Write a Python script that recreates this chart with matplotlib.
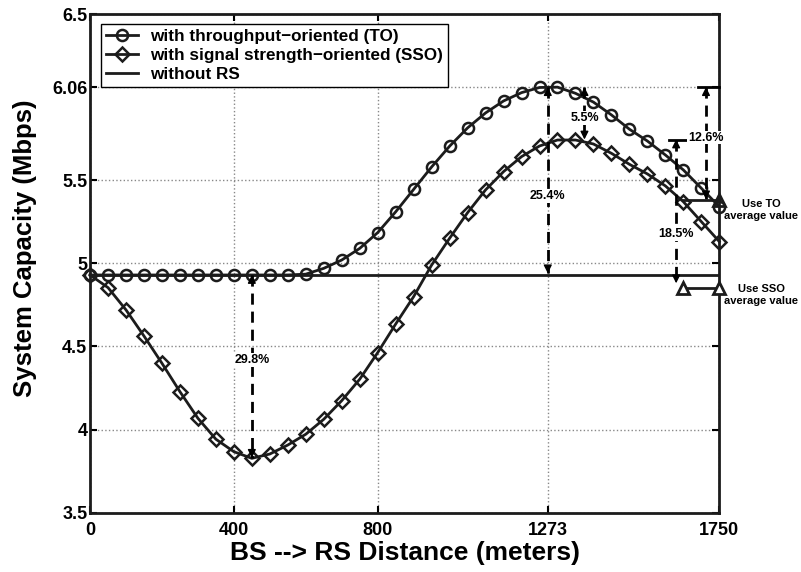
import numpy as np
import matplotlib
matplotlib.use("Agg")
import matplotlib.pyplot as plt

plt.rcParams['font.family'] = ['Liberation Sans', 'DejaVu Sans']
plt.rcParams['font.weight'] = 'bold'

# BS -> RS distance (m), one point every 50 m
distance = np.arange(0, 1751, 50)

capacity_to = [4.93, 4.93, 4.93, 4.93, 4.93, 4.93, 4.93, 4.93, 4.93, 4.93,
               4.93, 4.93, 4.935, 4.97, 5.02, 5.09, 5.185, 5.31, 5.445, 5.58,
               5.705, 5.815, 5.905, 5.977, 6.027, 6.058, 6.06, 6.023, 5.97, 5.893,
               5.807, 5.736, 5.652, 5.562, 5.452, 5.341]

capacity_sso = [4.93, 4.854, 4.72, 4.563, 4.399, 4.228, 4.068, 3.942, 3.867, 3.827,
                3.853, 3.907, 3.972, 4.062, 4.174, 4.303, 4.463, 4.635, 4.80, 4.99,
                5.151, 5.305, 5.442, 5.552, 5.642, 5.706, 5.742, 5.742, 5.718, 5.662,
                5.596, 5.538, 5.466, 5.371, 5.251, 5.131]

capacity_no_rs = 4.93

x_ticks = [0, 400, 800, 1273, 1750]
y_ticks = [3.5, 4, 4.5, 5, 5.5, 6.06, 6.5]
y_tick_labels = ["3.5", "4", "4.5", "5", "5.5", "6.06", "6.5"]

# (x, y_top, y_bottom, label, label_y)
gain_arrows = [
    (450, 4.93, 3.83, "29.8%", 4.42),
    (1273, 6.06, 4.94, "25.4%", 5.405),
    (1375, 6.06, 5.745, "5.5%", 5.875),
    (1630, 5.745, 4.88, "18.5%", 5.175),
    (1713, 6.06, 5.385, "12.6%", 5.756),
]
# caps at the top of the right arrows: (x0, x1, y)
caps = [(1690, 1750, 6.06), (1610, 1670, 5.745)]

to_avg = 5.38
sso_avg = 4.85
avg_x = [1650, 1750]

ink = '#1c1c1c'

fig = plt.figure(figsize=(8.01, 5.72), dpi=100)
ax = fig.add_axes([0.1124, 0.1037, 0.898 - 0.1124, 0.9755 - 0.1037])

ax.plot(distance, capacity_to, '-o', color=ink, lw=2, ms=8, mfc='none', mew=1.8,
        clip_on=False, zorder=4, label='with throughput\u2212oriented (TO)')
ax.plot(distance, capacity_sso, '-D', color=ink, lw=2, ms=7, mfc='none', mew=1.8,
        clip_on=False, zorder=4, label='with signal strength\u2212oriented (SSO)')
ax.axhline(capacity_no_rs, color=ink, lw=2, zorder=3, label='without RS')

# dashed gain arrows
for x, y0, y1, txt, ty in gain_arrows:
    ax.plot([x, x], [y0, y1], '--', color='black', lw=2, dashes=(4, 2.5), zorder=5)
    for tip, back in [(y0, y0 - 0.04), (y1, y1 + 0.04)]:
        ax.annotate('', xy=(x, tip), xytext=(x, back),
                    arrowprops=dict(arrowstyle='-|>', color='black', lw=1,
                                    mutation_scale=12, shrinkA=0, shrinkB=0),
                    zorder=6)
    ax.text(x, ty, txt, ha='center', va='center', fontsize=9, fontweight='bold',
            zorder=7, bbox=dict(facecolor='white', edgecolor='none', pad=0.5))

for x0, x1, y in caps:
    ax.plot([x0, x1], [y, y], color='black', lw=2, zorder=5, clip_on=False)

# average value markers
ax.plot(avg_x, [to_avg, to_avg], color=ink, lw=2, zorder=5, clip_on=False)
ax.plot([avg_x[1]], [to_avg], '^', color=ink, ms=9, mfc='none', mew=2,
        clip_on=False, zorder=6)
ax.plot(avg_x, [sso_avg, sso_avg], '-^', color=ink, lw=2, ms=9, mfc='white', mew=2,
        clip_on=False, zorder=6)
ax.text(1867, 5.32, "Use TO\naverage value", ha='center', va='center', fontsize=8,
        fontweight='bold', linespacing=1.3, clip_on=False)
ax.text(1867, 4.81, "Use SSO\naverage value", ha='center', va='center', fontsize=8,
        fontweight='bold', linespacing=1.3, clip_on=False)

ax.set_xlim(0, 1750)
ax.set_ylim(3.5, 6.5)
ax.set_xticks(x_ticks)
ax.set_yticks(y_ticks)
ax.set_yticklabels(y_tick_labels)
ax.tick_params(direction='in', top=True, right=True, length=5, width=1.5,
               labelsize=13, pad=2)
ax.tick_params(axis='x', pad=7)
ax.grid(True, linestyle=':', color='#888888', lw=1)
for s in ax.spines.values():
    s.set_linewidth(2)
    s.set_color(ink)

ax.set_xlabel("BS --> RS Distance (meters)", fontsize=19, fontweight='bold', labelpad=1)
ax.set_ylabel("System Capacity (Mbps)", fontsize=18.5, fontweight='bold')
ax.yaxis.set_label_coords(-0.084, 0.53)

leg = ax.legend(loc='upper left', bbox_to_anchor=(0.017, 0.98),
                prop={'weight': 'bold', 'size': 12.3}, fancybox=False, framealpha=1,
                edgecolor='black', handlelength=1.9, labelspacing=0.22,
                borderpad=0.3, handletextpad=0.7, borderaxespad=0)
leg.get_frame().set_linewidth(1)

fig.savefig("out.png", dpi=100)
